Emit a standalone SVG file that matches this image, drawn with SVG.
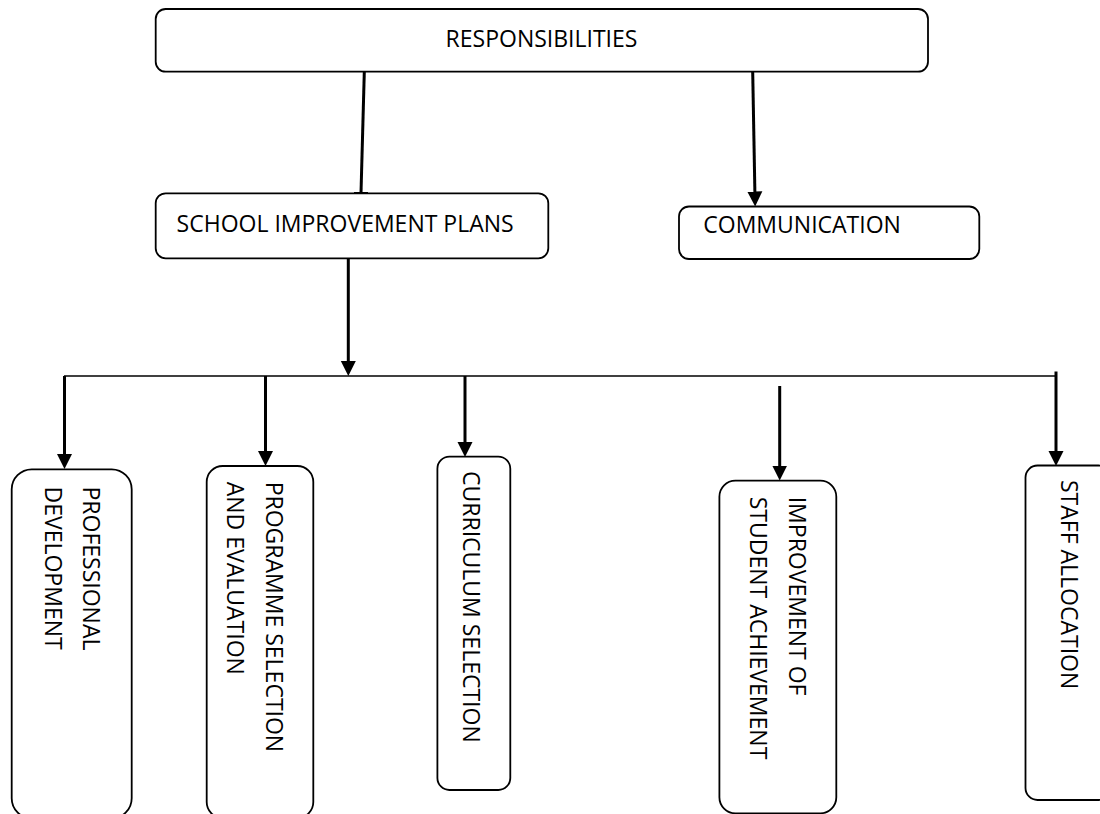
<svg xmlns="http://www.w3.org/2000/svg" width="1100" height="814" viewBox="0 0 1100 814">
<defs>
<style>
.box{fill:#fff;stroke:#000;stroke-width:1.8}
.t{font-family:"Open Sans","Liberation Sans",sans-serif;font-size:23px;fill:#000}
.arr{stroke:#000;stroke-width:3;fill:none;marker-end:url(#ah)}
.ln{stroke:#000;stroke-width:3;fill:none}
.bus{stroke:#000;stroke-width:1.6;fill:none}
</style>
<marker id="ah" markerUnits="userSpaceOnUse" markerWidth="16" markerHeight="16" viewBox="0 0 16 16" refX="7" refY="8" orient="auto">
<path d="M0,0.5 L15,8 L0,15.5 z" fill="#000"/>
</marker>
</defs>
<g id="connectors">
<line class="ln" x1="364.3" y1="72" x2="361" y2="193"/>
<line class="ln" x1="354" y1="193" x2="368" y2="193" style="stroke-width:2"/>
<line class="arr" x1="752.7" y1="72" x2="755" y2="198.5"/>
<line class="arr" x1="348.3" y1="258" x2="348.3" y2="368"/>
<line class="bus" x1="64" y1="376" x2="1056" y2="376"/>
<line class="arr" x1="64.5" y1="376" x2="64.5" y2="461"/>
<line class="arr" x1="265.5" y1="376" x2="265.5" y2="458"/>
<line class="arr" x1="465" y1="376" x2="465" y2="449"/>
<line class="arr" x1="779.7" y1="386" x2="779.7" y2="472.5"/>
<line class="arr" x1="1056" y1="371.5" x2="1056" y2="458"/>
</g>
<g id="responsibilities">
<rect class="box" x="155.7" y="9" width="772.3" height="62.7" rx="10"/>
<text class="t" x="541.5" y="47" text-anchor="middle">RESPONSIBILITIES</text>
</g>
<g id="school-improvement-plans">
<rect class="box" x="155.7" y="193.3" width="392.6" height="65" rx="10"/>
<text class="t" x="176.6" y="231.7">SCHOOL IMPROVEMENT PLANS</text>
</g>
<g id="communication">
<rect class="box" x="679" y="206.5" width="300.3" height="52.5" rx="10"/>
<text class="t" x="703.3" y="233">COMMUNICATION</text>
</g>
<g id="professional-development">
<rect class="box" x="11.7" y="469.3" width="120" height="349" rx="20"/>
<text class="t" transform="translate(83.3,486.5) rotate(90)">PROFESSIONAL</text>
<text class="t" transform="translate(45,486.5) rotate(90)">DEVELOPMENT</text>
</g>
<g id="programme-selection">
<rect class="box" x="206.7" y="466" width="106.6" height="352" rx="16"/>
<text class="t" transform="translate(265.5,481.7) rotate(90)">PROGRAMME SELECTION</text>
<text class="t" transform="translate(226.5,481.7) rotate(90)">AND EVALUATION</text>
</g>
<g id="curriculum-selection">
<rect class="box" x="437.4" y="456.7" width="72.9" height="333.3" rx="12"/>
<text class="t" transform="translate(463,471) rotate(90)">CURRICULUM SELECTION</text>
</g>
<g id="student-achievement">
<rect class="box" x="719.4" y="480.7" width="116.9" height="332.6" rx="16"/>
<text class="t" transform="translate(788.5,496.7) rotate(90)">IMPROVEMENT OF</text>
<text class="t" transform="translate(749.5,496.7) rotate(90)">STUDENT ACHIEVEMENT</text>
</g>
<g id="staff-allocation">
<rect class="box" x="1025.5" y="465.5" width="85" height="334.5" rx="12"/>
<text class="t" transform="translate(1061,480) rotate(90)">STAFF ALLOCATION</text>
</g>
</svg>
